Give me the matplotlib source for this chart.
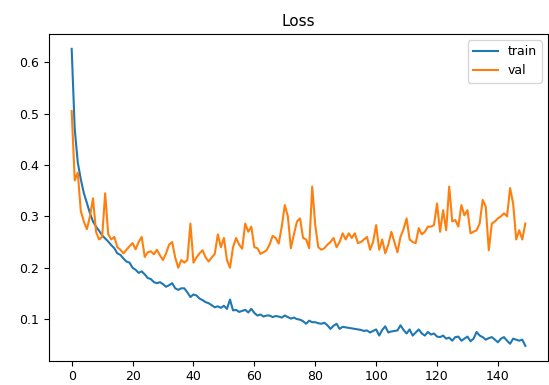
import matplotlib
matplotlib.use("Agg")
import matplotlib.pyplot as plt

epochs = list(range(150))

train = [0.626, 0.47, 0.405, 0.372, 0.345, 0.326, 0.306, 0.29, 0.28, 0.272,
         0.263, 0.257, 0.251, 0.244, 0.238, 0.228, 0.225, 0.218, 0.212, 0.21,
         0.20, 0.196, 0.19, 0.193, 0.187, 0.18, 0.178, 0.172, 0.17, 0.172,
         0.168, 0.163, 0.166, 0.17, 0.16, 0.157, 0.16, 0.16, 0.152, 0.143,
         0.148, 0.146, 0.14, 0.137, 0.133, 0.131, 0.127, 0.123, 0.125, 0.122,
         0.126, 0.12, 0.138, 0.117, 0.118, 0.114, 0.116, 0.118, 0.113, 0.12,
         0.112, 0.107, 0.109, 0.105, 0.107, 0.107, 0.104, 0.106, 0.105, 0.103,
         0.107, 0.104, 0.101, 0.103, 0.10, 0.099, 0.096, 0.091, 0.097, 0.094,
         0.094, 0.092, 0.091, 0.093, 0.088, 0.081, 0.087, 0.091, 0.081, 0.085,
         0.084, 0.083, 0.082, 0.081, 0.08, 0.079, 0.077, 0.078, 0.074, 0.077,
         0.08, 0.068, 0.079, 0.086, 0.074, 0.076, 0.077, 0.078, 0.088, 0.079,
         0.072, 0.08, 0.068, 0.074, 0.08, 0.072, 0.068, 0.075, 0.07, 0.072,
         0.066, 0.065, 0.068, 0.062, 0.064, 0.058, 0.065, 0.066, 0.058, 0.062,
         0.066, 0.057, 0.062, 0.075, 0.068, 0.065, 0.06, 0.063, 0.065, 0.06,
         0.055, 0.062, 0.065, 0.058, 0.052, 0.062, 0.06, 0.058, 0.06, 0.048]

val = [0.505, 0.37, 0.385, 0.31, 0.29, 0.275, 0.30, 0.335, 0.27, 0.255,
       0.26, 0.345, 0.265, 0.255, 0.26, 0.24, 0.235, 0.228, 0.235, 0.242,
       0.248, 0.236, 0.25, 0.26, 0.221, 0.23, 0.232, 0.226, 0.235, 0.224,
       0.215, 0.228, 0.245, 0.25, 0.22, 0.20, 0.215, 0.21, 0.215, 0.286,
       0.21, 0.22, 0.228, 0.234, 0.22, 0.212, 0.22, 0.227, 0.265, 0.24,
       0.258, 0.215, 0.20, 0.24, 0.258, 0.245, 0.237, 0.286, 0.27, 0.28,
       0.24, 0.238, 0.227, 0.23, 0.234, 0.245, 0.262, 0.258, 0.247, 0.28,
       0.322, 0.30, 0.238, 0.265, 0.29, 0.296, 0.258, 0.255, 0.238, 0.358,
       0.283, 0.24, 0.235, 0.238, 0.245, 0.25, 0.258, 0.24, 0.25, 0.267,
       0.255, 0.267, 0.258, 0.267, 0.248, 0.25, 0.255, 0.26, 0.235, 0.25,
       0.283, 0.235, 0.255, 0.228, 0.245, 0.27, 0.25, 0.23, 0.26, 0.275,
       0.296, 0.255, 0.25, 0.248, 0.277, 0.265, 0.27, 0.28, 0.28, 0.283,
       0.325, 0.27, 0.312, 0.273, 0.358, 0.29, 0.293, 0.28, 0.322, 0.302,
       0.312, 0.267, 0.27, 0.273, 0.286, 0.332, 0.319, 0.234, 0.286, 0.29,
       0.296, 0.30, 0.306, 0.30, 0.355, 0.325, 0.255, 0.273, 0.255, 0.286]

fig = plt.figure(figsize=(5.49, 3.85), dpi=100)
ax = fig.add_axes([49 / 549, 1 - 360.7 / 385, (548 - 49) / 549, (360.7 - 34) / 385])
ax.plot(epochs, train, label="train")
ax.plot(epochs, val, label="val")
ax.set_title("Loss", fontsize=11)
ax.tick_params(labelsize=9)
ax.legend(loc="upper right", fontsize=9)
fig.savefig("out.png", dpi=100)
